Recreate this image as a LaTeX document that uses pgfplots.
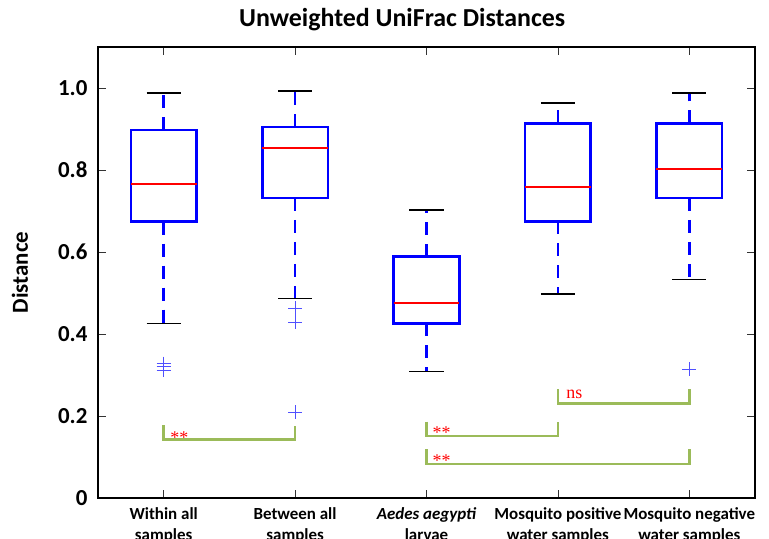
\documentclass[border=0pt]{standalone}
\usepackage{pgfplots}
\pgfplotsset{compat=1.18}
\usepgfplotslibrary{statistics}
\usepackage{fontspec}
\setmainfont{Carlito}
\newfontfamily\sigfont{Liberation Serif}
\definecolor{sigGreen}{RGB}{155,187,89}
\definecolor{outBlue}{RGB}{80,80,255}

\pgfplotsset{
  unifrac box/.style={
    blue,
    boxplot/draw direction=y,
    boxplot/box extend=0.5,
    boxplot/whisker extend=0.26,
    boxplot/every box/.style={draw=blue, line width=2.6bp},
    boxplot/every median/.style={draw=red, line width=1.7bp},
    boxplot/draw/lower whisker/.code={
      \draw[blue, line width=2.6bp, dash pattern=on 13bp off 9bp]
        (boxplot box cs:\pgfplotsboxplotvalue{lower quartile},0.5) --
        (boxplot box cs:\pgfplotsboxplotvalue{lower whisker},0.5);
      \draw[black, line width=1.6bp]
        (boxplot whisker cs:\pgfplotsboxplotvalue{lower whisker},0) --
        (boxplot whisker cs:\pgfplotsboxplotvalue{lower whisker},1);
    },
    boxplot/draw/upper whisker/.code={
      \draw[blue, line width=2.6bp, dash pattern=on 13bp off 9bp]
        (boxplot box cs:\pgfplotsboxplotvalue{upper quartile},0.5) --
        (boxplot box cs:\pgfplotsboxplotvalue{upper whisker},0.5);
      \draw[black, line width=1.6bp]
        (boxplot whisker cs:\pgfplotsboxplotvalue{upper whisker},0) --
        (boxplot whisker cs:\pgfplotsboxplotvalue{upper whisker},1);
    },
    mark=+, mark size=7bp, mark options={draw=outBlue, line width=1bp, solid},
  },
  sig/.style={sigGreen, line width=2.5bp},
}
\tikzset{
  sigtext/.style={anchor=base west, inner sep=0pt, text=red,
    font=\sigfont\fontsize{18}{18}\selectfont},
}

\begin{document}
\begin{tikzpicture}
\begin{axis}[
  scale only axis,
  width=657bp, height=451bp,
  xmin=0.5, xmax=5.5,
  ymin=0, ymax=1.1,
  xtick={1,2,3,4,5},
  xticklabels={Within all\\samples, Between all\\samples,
    {\itshape Aedes aegypti}\\larvae, Mosquito positive\\water samples,
    Mosquito negative\\water samples},
  ytick={0,0.2,0.4,0.6,0.8,1},
  yticklabels={0,0.2,0.4,0.6,0.8,1.0},
  /pgf/number format/assume math mode=true,
  tick align=inside,
  major tick length=8bp,
  tick style={black!80, line width=0.8bp},
  axis line style={black, line width=2bp},
  xticklabel style={align=center, font=\bfseries\fontsize{17}{21}\selectfont, yshift=-6bp},
  yticklabel style={font=\bfseries\fontsize{23}{27}\selectfont, xshift=-7bp},
  ylabel={Distance},
  every axis y label/.style={at={(axis description cs:0,0.5)}, xshift=-78bp,
    rotate=90, anchor=center, font=\bfseries\fontsize{23}{27}\selectfont},
  title={Unweighted UniFrac Distances},
  title style={at={(axis description cs:0.463,1)}, anchor=base, yshift=15bp,
    font=\bfseries\fontsize{26}{30}\selectfont},
]
% Within all samples
\addplot[unifrac box, boxplot prepared={draw position=1,
  lower whisker=0.426, lower quartile=0.674, median=0.766,
  upper quartile=0.898, upper whisker=0.988}]
  table[row sep=\\, y index=0] {y\\ 0.312\\ 0.320\\ 0.328\\};
% Between all samples
\addplot[unifrac box, boxplot prepared={draw position=2,
  lower whisker=0.487, lower quartile=0.732, median=0.854,
  upper quartile=0.905, upper whisker=0.993}]
  table[row sep=\\, y index=0] {y\\ 0.463\\ 0.429\\ 0.209\\};
% Aedes aegypti larvae
\addplot[unifrac box, boxplot prepared={draw position=3,
  lower whisker=0.309, lower quartile=0.426, median=0.476,
  upper quartile=0.589, upper whisker=0.702}]
  coordinates {};
% Mosquito positive water samples
\addplot[unifrac box, boxplot prepared={draw position=4,
  lower whisker=0.498, lower quartile=0.675, median=0.758,
  upper quartile=0.914, upper whisker=0.964}]
  coordinates {};
% Mosquito negative water samples
\addplot[unifrac box, boxplot prepared={draw position=5,
  lower whisker=0.533, lower quartile=0.732, median=0.802,
  upper quartile=0.914, upper whisker=0.988}]
  table[row sep=\\, y index=0] {y\\ 0.314\\};

% significance brackets
\addplot[sig] coordinates {(1,0.178) (1,0.143) (2,0.143) (2,0.176)};
\addplot[sig] coordinates {(3,0.186) (3,0.151) (4,0.151) (4,0.186)};
\addplot[sig] coordinates {(3,0.119) (3,0.083) (5,0.083) (5,0.119)};
\addplot[sig] coordinates {(4,0.265) (4,0.230) (5,0.230) (5,0.265)};
\node[sigtext] at (axis cs:1.05,0.134) {**};
\node[sigtext] at (axis cs:3.046,0.146) {**};
\node[sigtext] at (axis cs:3.046,0.076) {**};
\node[sigtext] at (axis cs:4.063,0.243) {ns};
\end{axis}
\pgfresetboundingbox
\useasboundingbox ([shift={(-98bp,-41bp)}]current axis.south west)
  rectangle ([shift={(671bp,498bp)}]current axis.south west);
\end{tikzpicture}
\end{document}
